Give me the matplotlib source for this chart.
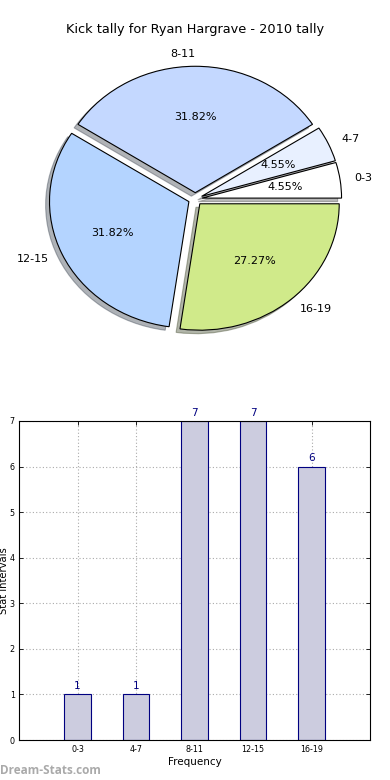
import matplotlib
matplotlib.use("Agg")
import matplotlib.pyplot as plt

categories = ["0-3", "4-7", "8-11", "12-15", "16-19"]
counts = [1, 1, 7, 7, 6]
pie_colors = ["#ffffff", "#e8f0ff", "#c4d8ff", "#b4d4ff", "#d0ea8a"]
title = "Kick tally for Ryan Hargrave - 2010 tally"

fig = plt.figure(figsize=(3.9, 7.8), dpi=100)

# Pie
axp = fig.add_axes([21/390, (780-357)/780, 348.5/390, 316/780])
wedges, texts, autotexts = axp.pie(
    counts, labels=categories, colors=pie_colors, explode=[0.05]*5,
    autopct='%1.2f%%', shadow={'ox': -0.02, 'oy': -0.02, 'alpha': 0.4},
    startangle=0,
    wedgeprops=dict(edgecolor='black', linewidth=0.8),
    textprops=dict(fontsize=8))
axp.set_aspect('auto')
axp.set_xlim(-1.25, 1.25)
axp.set_ylim(-1.25, 1.25)
fig.text(0.5, 1 - 30/780, title, ha='center', va='center', fontsize=9.3)

# Bars
axb = fig.add_axes([19/390, 40/780, 351/390, 319/780])
x = list(range(len(categories)))
axb.bar(x, counts, width=0.45, color="#ccccdf", edgecolor="navy", linewidth=0.8, zorder=2)
for xi, c in zip(x, counts):
    axb.text(xi, c + 0.07, str(c), ha='center', va='bottom', color='navy', fontsize=7.5)
axb.set_xlim(-1, 5)
axb.set_ylim(0, 7)
axb.set_xticks(x)
axb.set_xticklabels(categories, fontsize=5.8)
axb.set_yticks(range(8))
axb.tick_params(axis='y', labelsize=5.8, pad=3)
axb.tick_params(direction='in', top=True, right=True, length=3, width=0.6)
axb.grid(True, linestyle=(0, (1, 2)), color='#aaaaaa', linewidth=0.8, zorder=0)
axb.set_axisbelow(True)
axb.set_xlabel("Frequency", fontsize=7.5, labelpad=2)
axb.set_ylabel("Stat intervals", fontsize=7.2, va='center')
axb.yaxis.set_label_coords(-15/351, 0.5)
for s in axb.spines.values():
    s.set_linewidth(0.8)

fig.text(0.0, 1 - 771/780, "Dream-Stats.com", ha='left', va='center',
         fontsize=8.5, color='#aaaaaa', fontweight='bold', family='Open Sans')

fig.savefig("out.png", dpi=100)
